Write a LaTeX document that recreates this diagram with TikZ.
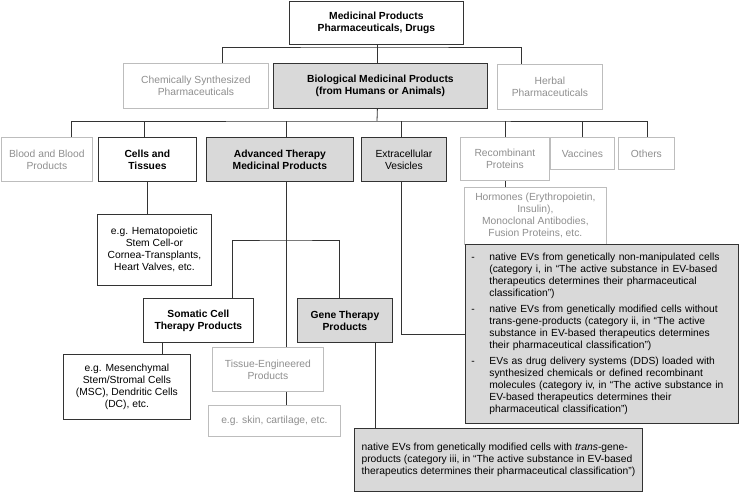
\documentclass[tikz,border=0pt]{standalone}
\usepackage{fontspec}
\setmainfont{Liberation Sans}
\definecolor{cFill}{HTML}{D9D9D9}
\definecolor{cLight}{HTML}{BDBDBD}
\definecolor{cLtext}{HTML}{8F8F8F}
\definecolor{cLine}{HTML}{333333}
\newcommand\myfs{\fontsize{10.3}{12}\selectfont}
\begin{document}
\begin{tikzpicture}[x=1pt,y=-1pt,line width=0.8pt,
  base/.style={anchor=north west,inner sep=0pt,align=center,font=\myfs},
  darkbox/.style={base,draw=cLine},
  lightbox/.style={base,draw=cLight,text=cLtext},
  greybox/.style={base,draw=cLine,fill=cFill},
  boldtext/.style={font=\myfs\bfseries},
  conn/.style={draw=cLine,line width=0.8pt}]
\fill[white] (0,0) rectangle (739,492);
\useasboundingbox (0,0) rectangle (739,492);

% level 0
\node[darkbox,boldtext,minimum width=174pt,minimum height=43pt] (top) at (289,1) {Medicinal Products\\Pharmaceuticals, Drugs};
% level 1
\node[lightbox,minimum width=145pt,minimum height=45pt] (chem) at (123,63) {Chemically Synthesized\\Pharmaceuticals};
\node[greybox,boldtext,minimum width=214pt,minimum height=45pt] (bio) at (273,63) {Biological Medicinal Products\\(from Humans or Animals)};
\node[lightbox,minimum width=105pt,minimum height=45pt] (herbal) at (497,64) {Herbal\\Pharmaceuticals};
% level 2
\node[lightbox,minimum width=91pt,minimum height=44pt] (blood) at (1,137) {Blood and Blood\\Products};
\node[darkbox,boldtext,minimum width=98pt,minimum height=44pt] (cells) at (98,137) {Cells and\\Tissues};
\node[greybox,boldtext,minimum width=147pt,minimum height=44pt] (atmp) at (206,137) {Advanced Therapy\\Medicinal Products};
\node[greybox,minimum width=85pt,minimum height=44pt] (ev) at (361,137) {Extracellular\\Vesicles};
\node[lightbox,minimum width=89pt,minimum height=43pt] (recomb) at (460,137) {Recombinant\\Proteins};
\node[lightbox,minimum width=64pt,minimum height=32pt] (vacc) at (550,137) {Vaccines};
\node[lightbox,minimum width=56pt,minimum height=32pt] (others) at (618,137) {Others};
% lower
\node[lightbox,minimum width=142pt,minimum height=57pt] (horm) at (464,187) {Hormones (Erythropoietin,\\Insulin),\\Monoclonal Antibodies,\\Fusion Proteins, etc.};
\node[darkbox,minimum width=114pt,minimum height=71pt] (hema) at (97,214) {e.g. Hematopoietic\\Stem Cell-or\\Cornea-Transplants,\\Heart Valves, etc.};
\node[darkbox,boldtext,minimum width=110pt,minimum height=44pt] (somatic) at (143,298) {Somatic Cell\\Therapy Products};
\node[greybox,boldtext,minimum width=95pt,minimum height=44pt] (gene) at (297,298) {Gene Therapy\\Products};
\node[lightbox,minimum width=111pt,minimum height=44pt] (te) at (212,347) {Tissue-Engineered\\Products};
\node[darkbox,minimum width=127pt,minimum height=65pt] (mesen) at (63,354) {e.g. Mesenchymal\\Stem/Stromal Cells\\(MSC), Dendritic Cells\\(DC), etc.};
\node[lightbox,minimum width=132pt,minimum height=31pt] (skin) at (208,405) {e.g. skin, cartilage, etc.};

\node[greybox,align=left,text width=261pt,inner xsep=6pt,minimum width=273pt,minimum height=179pt] (list) at (465,244) {%
\begin{tabular}{@{}p{18pt}@{}l@{}}
-& native EVs from genetically non-manipulated cells\\
 & (category i, in “The active substance in EV-based\\
 & therapeutics determines their pharmaceutical\\
 & classification”)\\[4pt]
-& native EVs from genetically modified cells without\\
 & trans-gene-products (category ii, in “The active\\
 & substance in EV-based therapeutics determines\\
 & their pharmaceutical classification”)\\[4pt]
-& EVs as drug delivery systems (DDS) loaded with\\
 & synthesized chemicals or defined recombinant\\
 & molecules (category iv, in “The active substance in\\
 & EV-based therapeutics determines their\\
 & pharmaceutical classification”)
\end{tabular}};

\node[greybox,align=left,minimum width=288pt,minimum height=63pt] (bottom) at (354,428) {native EVs from genetically modified cells with \textit{trans}-gene-\\products (category iii, in “The active substance in EV-based\\therapeutics determines their pharmaceutical classification”)};

% connectors
\coordinate (j1) at (377,47);
\coordinate (j2) at (377,121);
\coordinate (j3) at (286,240);
\draw[conn] ([xshift=26.5pt]chem.north) |- (j1) -| ([xshift=-28.5pt]herbal.north);
\draw[conn] ([xshift=1pt]top.south) -- ([xshift=-3pt]bio.north);
\draw[conn] ([xshift=-3pt]bio.south) -- (j2);
\draw[conn] ([xshift=24.5pt]blood.north) |- (j2) -| ([xshift=1pt]others.north);
\draw[conn] ([xshift=-3pt]cells.north) -- ([xshift=-3pt]cells.north |- j2);
\draw[conn] ([xshift=6.5pt]atmp.north) -- ([xshift=6.5pt]atmp.north |- j2);
\draw[conn] ([xshift=-2.5pt]ev.north) -- ([xshift=-2.5pt]ev.north |- j2);
\draw[conn] (recomb.north) -- (recomb.north |- j2);
\draw[conn] (vacc.north) -- (vacc.north |- j2);
\draw[conn] (recomb.south) -- (recomb.south |- horm.north);
\draw[conn] (cells.south) -- (cells.south |- hema.north);
\draw[conn] ([xshift=6.5pt]atmp.south) -- ([xshift=6.5pt]atmp.south |- te.north);
\draw[conn] ([xshift=34pt]somatic.north) |- (j3) -| ([xshift=-5.5pt]gene.north);
\draw[conn] ([xshift=-36pt]somatic.south) -- ([xshift=-36pt]somatic.south |- mesen.north);
\draw[conn] ([xshift=18.5pt]te.south) -- ([xshift=18.5pt]te.south |- skin.north);
\draw[conn] ([xshift=-2.5pt]ev.south) |- (list.west);
\draw[conn] ([xshift=30.5pt]gene.south) -- ([xshift=30.5pt]gene.south |- bottom.north);
\end{tikzpicture}
\end{document}
